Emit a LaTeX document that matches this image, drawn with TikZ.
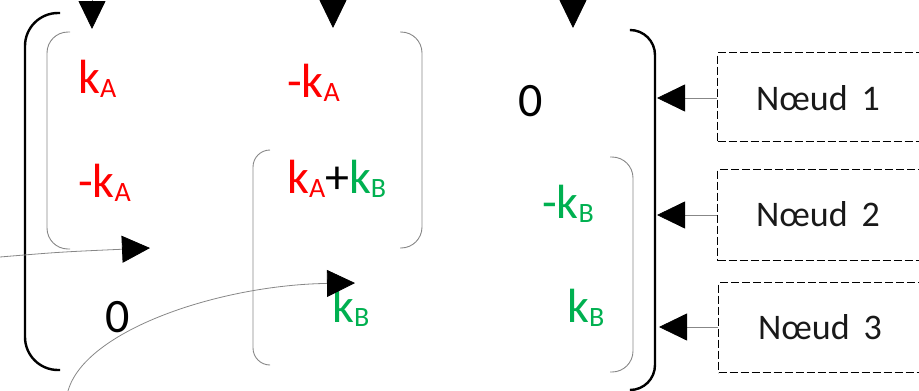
\documentclass[tikz,border=0pt]{standalone}
\usepackage{fontspec}
\setmainfont{Carlito}
\usetikzlibrary{arrows.meta}
\definecolor{kred}{RGB}{255,0,0}
\definecolor{kgreen}{RGB}{0,176,80}
\definecolor{lgray}{RGB}{135,135,135}
\newcommand\subs[1]{\raisebox{-4.5pt}{\fontsize{28}{28}\selectfont #1}}
\begin{document}
\begin{tikzpicture}[x=1pt,y=-1pt,
  entry/.style={inner sep=0pt,anchor=base west,font=\fontsize{48}{48}\selectfont},
  bigbr/.style={line width=2.4pt,black},
  smbr/.style={line width=0.9pt,lgray},
  conn/.style={lgray,line width=0.8pt,-{Triangle[length=28pt,width=27pt,color=black]}},
  nbox/.style={draw,dash pattern=on 8pt off 3pt,line width=1.2pt,minimum width=240pt,inner sep=0pt,anchor=north west},
  nlabel/.style={inner sep=0pt,font=\fontsize{36}{36}\selectfont,text=black!90}
]
\useasboundingbox (0,0) rectangle (919,391);
\clip (0,0) rectangle (919,391);

% big brackets
\draw[bigbr,rounded corners=33pt] (60,13) -- (25,13) -- (25,370) -- (60,370);
\draw[bigbr,rounded corners=25pt] (632,30) -- (655,30) -- (655,390) -- (632,390);

% small brackets
\draw[smbr,rounded corners=21pt] (70,32) -- (47,32) -- (47,249) -- (70,249);
\draw[smbr,rounded corners=21pt] (400,32) -- (422,32) -- (422,248) -- (400,248);
\draw[smbr,rounded corners=17pt] (270,150) -- (253,150) -- (253,365) -- (268,365);
\draw[smbr,rounded corners=21pt] (610,157) -- (633,157) -- (633,372) -- (610,372);

% entries
\node[entry,text=kred] (e11) at (78,93) {k\subs{A}};
\node[entry,text=kred] (e12) at (287,97) {-k\subs{A}};
\node[entry] (e13) at (518,116) {0};
\node[entry,text=kred] (e21) at (78,197) {-k\subs{A}};
\node[entry] (e22) at (287,193) {\textcolor{kred}{k\subs{A}}+\textcolor{kgreen}{k\subs{B}}};
\node[entry,text=kgreen] (e23) at (542,218) {-k\subs{B}};
\node[entry] (e31) at (105,332) {0};
\node[entry,text=kgreen] (e32) at (332,322) {k\subs{B}};
\node[entry,text=kgreen] (e33) at (567,322) {k\subs{B}};

% top arrows
\coordinate (u1) at (92,-40);  \coordinate (d1) at (92,29);
\coordinate (u2) at (333,-40); \coordinate (d2) at (333,28);
\coordinate (u3) at (573,-40); \coordinate (d3) at (573,28);
\draw[conn] (u1) -- (d1);
\draw[conn] (u2) -- (d2);
\draw[conn] (u3) -- (d3);

% left arrows
\coordinate (l0) at (0,257);  \coordinate (l1) at (150,248);
\draw[conn] (l0) .. controls (60,252) .. (l1);
\coordinate (c0) at (68,391); \coordinate (c1) at (355,283);
\draw[conn] (c0) .. controls (85,330) and (220,285) .. (c1);

% boxes
\node[nbox,minimum height=89pt] (b1) at (717,52) {};
\node[nbox,minimum height=91pt] (b2) at (717,169) {};
\node[nbox,minimum height=90pt] (b3) at (718,282) {};
\node[nlabel] (t1) at (818,98) {Nœud\hspace{14pt}1};
\node[nlabel] (t2) at (818,214) {Nœud\hspace{14pt}2};
\node[nlabel] (t3) at (820,327) {Nœud\hspace{14pt}3};

% right arrows
\coordinate (r1) at (657,98);
\coordinate (r2) at (657,215);
\coordinate (r3) at (659,327);
\draw[conn] (b1.west |- r1) -- (r1);
\draw[conn] (b2.west |- r2) -- (r2);
\draw[conn] (b3.west |- r3) -- (r3);
\end{tikzpicture}
\end{document}
